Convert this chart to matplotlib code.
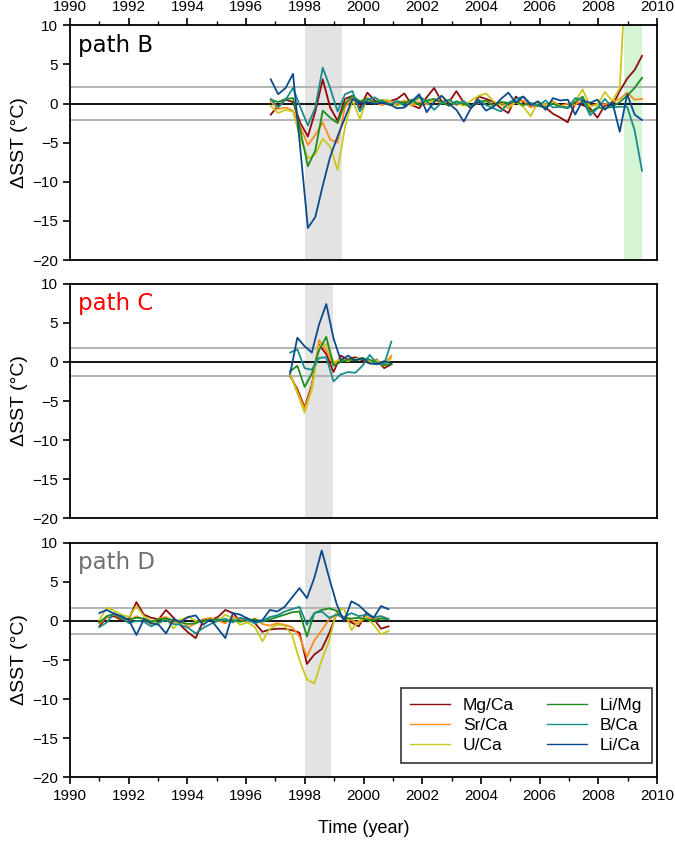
import matplotlib
matplotlib.use("Agg")
from matplotlib import pyplot as plt
import numpy as np

plt.rcParams['font.family'] = ['Liberation Sans', 'DejaVu Sans']

# ---- data ----
names = ["Mg/Ca", "Sr/Ca", "U/Ca", "Li/Mg", "B/Ca", "Li/Ca"]
colors = ["#8e0b0b", "#ff8c1a", "#c8c81e", "#1e8c1e", "#1a8c8c", "#0b4a8c"]

# path B (about quarterly samples)
years_b = np.linspace(1996.84, 2009.49, 51)
mgca_b = [-1.4, -0.3, 0.5, 0.2, -2.5, -4.2, -1.0, 3.1, -0.5, -2.2, 0.6, 1.0, -0.6,
          1.4, 0.4, 0.0, 0.3, 0.6, 1.3, -0.2, -0.6, 0.8, 2.0, 0.3, 0.2, 1.6, 0.1,
          -0.6, 0.9, 0.6, 0.2, -0.6, -1.2, 0.9, 0.2, -0.4, -0.2, -0.5, -1.3, -1.8,
          -2.4, 0.1, -0.2, -0.6, -1.8, -0.2, -0.3, 1.6, 3.2, 4.3, 6.1]
srca_b = [0.3, -0.7, -0.5, -0.9, -3.0, -5.3, -4.0, -2.4, -4.6, -5.0, -0.5, 0.8, 0.2,
          0.5, 0.2, -0.2, 0.3, 0.0, 0.4, -0.3, 0.2, -0.1, 0.5, 0.0, 0.3, -0.2, 0.2,
          -0.4, 0.1, 0.3, -0.2, 0.1, -0.3, 0.2, 0.4, -0.5, 0.1, -0.2, 0.3, -0.3,
          0.0, -0.2, 0.6, -0.4, 0.0, -0.1, 0.2, 0.6, 1.4, 0.5, 0.6]
uca_b = [-0.3, -1.2, -0.8, -1.0, -4.5, -7.0, -6.5, -4.5, -5.5, -8.5, -3.0, 0.5, -2.0,
         0.8, 0.0, 0.5, 0.4, -0.3, 0.2, -0.1, 0.7, 0.2, 0.3, 1.0, 0.2, 0.1, -0.3,
         0.4, 1.0, 1.3, 0.3, -0.2, -0.6, 0.2, -0.4, -1.6, 0.2, -0.1, 0.1, -0.3,
         -0.4, 0.3, 1.8, -0.3, -0.2, 1.5, 0.3, 2.0, 20.0, 25.0, 28.0]
limg_b = [0.5, 0.2, 0.6, 0.7, -3.5, -8.0, -6.0, -0.9, -1.8, -2.5, 0.0, 1.0, 0.3,
          0.6, 0.2, 0.4, -0.2, 0.3, 0.1, 0.5, -0.2, 0.4, 0.6, 0.2, -0.3, 0.3, 0.0,
          -0.4, 0.2, 0.4, -0.3, 0.2, 0.1, 0.3, -0.2, 0.1, -0.3, -0.5, 0.0, -0.4,
          -0.6, 0.2, 0.9, -1.1, -0.5, -0.6, -0.4, 0.2, 1.0, 2.0, 3.3]
bca_b = [0.6, -0.5, 0.5, 2.0, -0.5, -2.8, -0.5, 4.6, 2.0, -1.0, 1.2, 1.6, -1.0,
         0.5, 0.8, 0.2, -0.1, 0.3, -0.3, 0.2, 0.9, 0.3, -0.8, 0.1, 0.5, -0.1, 0.3,
         -0.4, 0.5, -0.2, -0.6, -1.0, 0.1, 0.6, 0.9, 0.0, -0.3, 0.4, -0.5, -0.4,
         -0.5, 0.7, 0.5, -1.5, -0.6, 0.6, -0.5, -0.4, -0.4, -3.4, -8.6]
lica_b = [3.1, 1.2, 2.0, 3.8, -6.0, -15.9, -14.5, -10.5, -6.8, -4.2, -1.8, 0.6, 0.1,
          0.2, 0.0, 0.1, -0.1, -0.6, -0.5, 0.3, 1.2, -1.1, 0.2, 1.0, 0.0, -0.8, -2.3,
          -0.5, 0.3, -0.9, -0.4, 0.6, 1.4, 0.1, 0.9, -0.2, 0.3, -0.8, 0.7, 0.4,
          0.5, -1.4, 0.4, 0.1, 0.5, -0.8, 0.2, -3.6, 1.2, -1.4, -2.1]

# path C
years_c = np.linspace(1997.5, 2000.95, 15)
mgca_c = [-1.8, -3.5, -5.8, -3.0, 2.2, 1.0, -1.3, 0.8, 0.3, 0.6, 0.2, -0.2, 0.3, -0.8, -0.3]
srca_c = [-1.5, -3.8, -6.0, -3.3, 2.8, 1.5, -0.3, 0.5, 0.2, 0.3, 0.4, 0.0, 0.2, -0.3, 0.8]
uca_c = [-1.6, -4.0, -6.5, -3.5, 2.0, 2.3, 0.0, 0.3, 0.1, 0.4, 0.5, -0.1, 0.2, -0.5, 0.5]
limg_c = [-1.2, -0.5, -3.2, -1.5, 1.5, 3.2, -0.5, 0.0, 0.3, 0.2, 0.4, 0.3, -0.2, -0.4, -0.3]
bca_c = [1.2, 1.6, -0.8, -1.0, 0.5, 0.6, -2.5, -1.6, -1.3, -1.4, -0.5, 0.9, -0.2, -0.3, 2.6]
lica_c = [-1.5, 3.1, 2.0, 1.2, 4.8, 7.4, 3.0, 0.2, 0.8, 0.2, 0.5, -0.2, -0.3, 0.1, -0.2]

# path D
years_d = np.linspace(1991.0, 2000.85, 40)
mgca_d = [-0.7, 0.5, 0.6, 0.1, 0.3, 2.4, 0.8, 0.4, 0.2, 1.4, 0.4, -0.6, -1.5, -2.2,
          0.0, 0.1, 0.5, 1.4, 1.0, 0.0, 0.3, -0.3, -1.4, -1.1, -1.0, -1.0, -1.2, -1.5,
          -5.5, -4.3, -3.6, -1.6, 0.9, 0.3, -0.2, -0.7, 1.0, 0.3, -1.0, -0.7]
srca_d = [-0.3, 0.5, 0.8, 0.3, 0.0, 0.6, 0.2, -0.4, 0.3, 0.5, -0.2, 0.1, -0.8, -0.3,
          0.2, 0.4, 0.0, -0.3, 0.5, 0.2, -0.1, 0.3, -0.4, -0.6, -0.3, -0.5, -0.8, -2.0,
          -4.6, -2.5, -1.2, 0.2, 0.8, 0.4, 0.1, -0.3, 0.5, 0.2, 0.6, 0.3]
uca_d = [0.1, 1.7, 1.3, 0.8, 0.5, 1.9, 0.6, 0.0, -0.4, 0.3, -1.0, 0.2, 0.5, 0.0,
         -0.3, 0.3, 0.0, 0.8, 0.3, -0.5, -0.2, -0.8, -2.6, -1.0, -0.5, -0.6, -1.8, -5.0,
         -7.5, -8.0, -5.0, -2.5, 1.2, 1.6, -1.2, 0.0, 0.5, -0.5, -1.7, -1.3]
limg_d = [-0.2, 0.6, 0.9, 0.3, 0.2, 0.4, 0.3, -0.1, 0.2, 0.3, 0.1, -0.2, -0.4, -0.3,
          0.1, 0.1, 0.2, 0.0, 0.1, -0.1, 0.1, 0.2, -0.1, 0.2, 0.5, 0.8, 1.1, 1.2,
          -2.0, 1.0, 1.4, 1.6, 1.3, 0.4, 0.3, 0.4, 0.2, 0.1, 0.3, 0.2]
bca_d = [-0.8, -0.2, 1.0, 0.4, -0.3, 0.0, -0.1, -0.7, -0.2, 0.1, -0.4, -0.5, -0.9, -1.6,
         -0.9, -0.4, 0.0, 0.3, -0.2, 0.4, 0.1, -0.3, 0.0, 0.5, 0.7, 1.2, 1.5, 1.8,
         -0.5, 1.0, 1.2, 0.4, 0.8, 0.5, 1.0, 0.6, 0.8, 0.5, 0.6, 0.2]
lica_d = [1.0, 1.4, 0.9, 0.6, 0.1, -1.8, 0.2, -0.3, -0.5, -1.6, 0.2, -0.1, 0.5, 0.7,
          -0.5, 0.2, -1.0, -2.2, 1.0, 0.8, 0.3, -0.1, 0.1, 1.4, 1.2, 1.8, 3.0, 4.2,
          2.9, 5.5, 9.0, 5.5, 2.2, -0.1, 2.5, 2.0, 1.1, 0.4, 1.9, 1.5]

panels = [
    ("path B", "black", years_b, [mgca_b, srca_b, uca_b, limg_b, bca_b, lica_b], 2.15, (1998.0, 1999.27)),
    ("path C", "#ff0000", years_c, [mgca_c, srca_c, uca_c, limg_c, bca_c, lica_c], 1.75, (1998.0, 1998.95)),
    ("path D", "#707070", years_d, [mgca_d, srca_d, uca_d, limg_d, bca_d, lica_d], 1.7, (1998.0, 1998.88)),
]

fig = plt.figure(figsize=(6.75, 8.46), dpi=100)
left, width = 70 / 675, 587 / 675
bottoms = [1 - 260 / 846, 1 - 518.3 / 846, 1 - 777.3 / 846]
height = 234.6 / 846

axes = []
for i, (label, lcol, yrs, series, band, span) in enumerate(panels):
    ax = fig.add_axes([left, bottoms[i], width, height])
    axes.append(ax)
    ax.axvspan(span[0], span[1], color="#e3e3e3", lw=0, zorder=0)
    if i == 0:
        ax.axvspan(2008.87, 2009.5, color="#d3f5d3", lw=0, zorder=0)
    ax.axhline(band, color="#b4b4b4", lw=1.4, zorder=1)
    ax.axhline(-band, color="#b4b4b4", lw=1.4, zorder=1)
    ax.axhline(0, color="black", lw=1.3, zorder=1)
    for s, name, c in zip(series, names, colors):
        ax.plot(yrs, s, color=c, lw=1.3, label=name, zorder=2)
    ax.set_xlim(1990, 2010)
    ax.set_ylim(-20, 10)
    ax.set_yticks([-20, -15, -10, -5, 0, 5, 10])
    ax.set_xticks(np.arange(1990, 2011, 2))
    ax.set_xticks(np.arange(1990, 2011, 1), minor=True)
    ax.tick_params(axis="y", direction="out", length=5, width=1.2, labelsize=11)
    ax.tick_params(axis="x", which="major", direction="out", length=5, width=1.2, labelsize=11)
    ax.tick_params(axis="x", which="minor", direction="out", length=3, width=1.0)
    if i == 0:
        ax.tick_params(axis="x", which="both", top=True, bottom=False,
                       labeltop=True, labelbottom=False)
    elif i == 1:
        ax.tick_params(axis="x", which="both", top=False, bottom=False,
                       labeltop=False, labelbottom=False)
    for sp in ax.spines.values():
        sp.set_linewidth(1.3)
    ax.set_ylabel("ΔSST (°C)", fontsize=14, labelpad=3)
    ax.text(0.014, 0.915, label, transform=ax.transAxes, color=lcol,
            fontsize=16.5, family="DejaVu Sans", va="center", ha="left")

axes[2].set_xlabel("Time (year)", fontsize=13, labelpad=12)
leg = axes[2].legend(ncol=2, loc="lower right", bbox_to_anchor=(0.9915, 0.061),
                     borderaxespad=0, fontsize=12.5, frameon=True, fancybox=False,
                     handlelength=2.3, columnspacing=1.9, labelspacing=0.3,
                     handletextpad=0.75, borderpad=0.55)
leg.get_frame().set_edgecolor("black")
leg.get_frame().set_linewidth(1.2)
for h in leg.get_lines():
    h.set_linewidth(1.0)

fig.savefig("out.png", dpi=100)
